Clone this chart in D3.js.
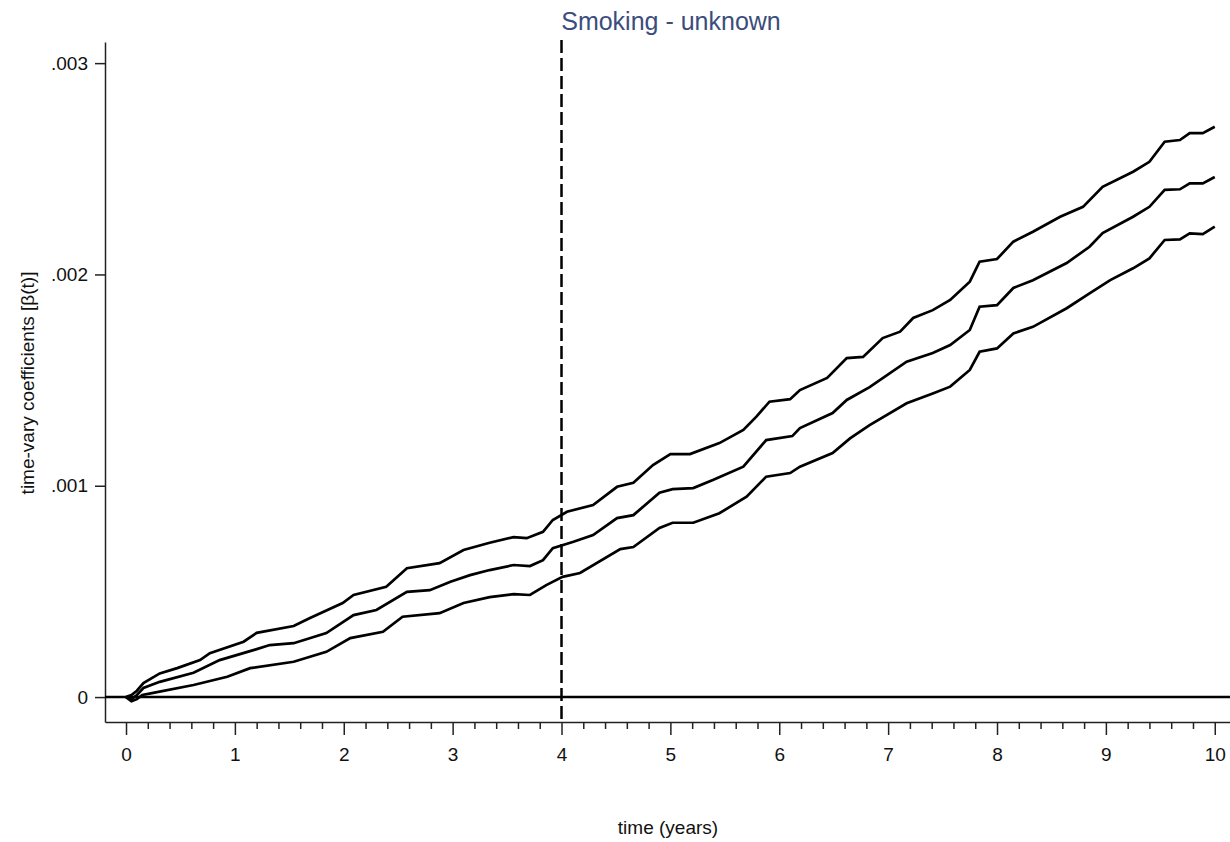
<!DOCTYPE html>
<html>
<head>
<meta charset="utf-8">
<script src="https://cdn.jsdelivr.net/npm/d3@7"></script>
<style>
  body { margin: 0; background: #fff; }
  svg { font-family: "Liberation Sans", Arial, sans-serif; }
  .axis path, .axis line { stroke: #222; stroke-width: 1.5px; }
  .axis text { fill: #111; font-size: 19px; }
</style>
</head>
<body>
<div id="main"></div>
<script>
// time-varying coefficient: [time (years), beta(t)]
const upperBand = [
  [0, 0], [0.05, 0.00001], [0.1, 0.00003], [0.16, 0.000066], [0.31, 0.000112],
  [0.47, 0.000137], [0.68, 0.000175], [0.77, 0.000208], [1.08, 0.000262], [1.2, 0.000304],
  [1.54, 0.000336], [1.69, 0.000374], [1.99, 0.000445], [2.09, 0.000483], [2.39, 0.000522],
  [2.58, 0.00061], [2.88, 0.000634], [3.1, 0.000696], [3.34, 0.00073], [3.56, 0.000757],
  [3.68, 0.000752], [3.83, 0.000782], [3.92, 0.000838], [4.05, 0.000877], [4.29, 0.000909],
  [4.51, 0.000995], [4.66, 0.001014], [4.84, 0.001098], [5.0, 0.00115], [5.18, 0.00115],
  [5.45, 0.001202], [5.67, 0.001264], [5.79, 0.001327], [5.91, 0.001398], [6.1, 0.00141],
  [6.19, 0.001453], [6.44, 0.00151], [6.62, 0.001604], [6.77, 0.00161], [6.95, 0.001699],
  [7.11, 0.001729], [7.23, 0.001794], [7.41, 0.001831], [7.57, 0.001879], [7.75, 0.001966],
  [7.84, 0.00206], [8.0, 0.002073], [8.15, 0.002155], [8.33, 0.002202], [8.58, 0.002273],
  [8.79, 0.00232], [8.97, 0.002415], [9.25, 0.002486], [9.4, 0.002533], [9.54, 0.002628],
  [9.68, 0.002636], [9.77, 0.002669], [9.89, 0.002669], [10.0, 0.002699]
];

const estimate = [
  [0, 0], [0.05, -0.00001], [0.1, 0.00001], [0.16, 0.000043], [0.31, 0.000072],
  [0.62, 0.000115], [0.86, 0.000175], [1.17, 0.000222], [1.32, 0.000246], [1.54, 0.000255],
  [1.84, 0.000303], [2.09, 0.000388], [2.3, 0.000412], [2.58, 0.000498], [2.79, 0.000506],
  [2.98, 0.000546], [3.16, 0.000577], [3.34, 0.000601], [3.56, 0.000625], [3.71, 0.00062],
  [3.83, 0.000648], [3.92, 0.000705], [4.11, 0.000735], [4.29, 0.000767], [4.51, 0.000847],
  [4.66, 0.000861], [4.9, 0.000967], [5.02, 0.000984], [5.21, 0.000989], [5.39, 0.001027],
  [5.67, 0.00109], [5.88, 0.001216], [6.12, 0.001235], [6.19, 0.001273], [6.49, 0.001344],
  [6.62, 0.001406], [6.83, 0.001467], [7.17, 0.001587], [7.41, 0.001628], [7.57, 0.001666],
  [7.75, 0.001737], [7.84, 0.001847], [8.0, 0.001855], [8.15, 0.001936], [8.33, 0.001973],
  [8.64, 0.002054], [8.85, 0.002131], [8.97, 0.002196], [9.25, 0.002273], [9.4, 0.00232],
  [9.54, 0.0024], [9.68, 0.002403], [9.77, 0.002431], [9.89, 0.002431], [10.0, 0.002461]
];

const lowerBand = [
  [0, 0], [0.05, -0.00002], [0.1, -0.00001], [0.15, 0.00001], [0.25, 0.00002],
  [0.62, 0.000057], [0.93, 0.000096], [1.14, 0.000137], [1.54, 0.000167], [1.84, 0.000214],
  [2.06, 0.000279], [2.36, 0.000309], [2.54, 0.00038], [2.88, 0.000397], [3.1, 0.000445],
  [3.34, 0.000473], [3.56, 0.000487], [3.71, 0.000483], [3.86, 0.00053], [4.01, 0.000569],
  [4.17, 0.000587], [4.54, 0.0007], [4.66, 0.00071], [4.9, 0.0008], [5.02, 0.000825],
  [5.21, 0.000825], [5.45, 0.00087], [5.7, 0.000948], [5.88, 0.001043], [6.1, 0.00106],
  [6.19, 0.00109], [6.49, 0.001155], [6.65, 0.001224], [6.83, 0.001287], [7.17, 0.00139],
  [7.41, 0.001437], [7.57, 0.001469], [7.75, 0.001548], [7.84, 0.001634], [8.0, 0.00165],
  [8.15, 0.001721], [8.33, 0.001752], [8.64, 0.00184], [8.85, 0.00191], [9.04, 0.001973],
  [9.25, 0.002029], [9.4, 0.002076], [9.54, 0.002163], [9.68, 0.002166], [9.77, 0.002194],
  [9.89, 0.002191], [10.0, 0.002226]
];

const xMajorTicks = [0, 1, 2, 3, 4, 5, 6, 7, 8, 9, 10];
const xMinorTicks = d3.range(0, 51).map(i => i / 5).filter(v => v % 1 !== 0);
const yTicks = [0, 0.001, 0.002, 0.003];
const yTickLabels = ['0', '.001', '.002', '.003'];
const cutTime = 4;
const title = 'Smoking - unknown';

const width = 1230, height = 842;
const plotLeft = 105, plotRight = 1230, plotTop = 42, plotBottom = 722;

const svg = d3.select('#main').append('svg')
  .attr('width', width)
  .attr('height', height);

const x = d3.scaleLinear().domain([-0.193, 10.14]).range([plotLeft, plotRight]);
const y = d3.scaleLinear().domain([-0.000118, 0.0031]).range([plotBottom, plotTop]);

// x axis: major ticks with labels, then unlabelled minor ticks
svg.append('g')
  .attr('class', 'axis')
  .attr('transform', `translate(0,${plotBottom})`)
  .call(d3.axisBottom(x).tickValues(xMajorTicks).tickSize(13).tickSizeOuter(0).tickPadding(13));

svg.append('g')
  .attr('class', 'axis')
  .attr('transform', `translate(0,${plotBottom})`)
  .call(d3.axisBottom(x).tickValues(xMinorTicks).tickSize(7).tickSizeOuter(0).tickFormat(''))
  .call(g => g.select('.domain').remove());

// y axis
svg.append('g')
  .attr('class', 'axis')
  .attr('transform', `translate(${plotLeft},0)`)
  .call(d3.axisLeft(y).tickValues(yTicks).tickSize(10).tickSizeOuter(0).tickPadding(7)
    .tickFormat((d, i) => yTickLabels[i]));

// reference line at zero
svg.append('line')
  .attr('x1', plotLeft).attr('x2', plotRight)
  .attr('y1', y(0)).attr('y2', y(0))
  .attr('stroke', '#000')
  .attr('stroke-width', 2.4);

// dashed vertical marker
svg.append('line')
  .attr('x1', x(cutTime)).attr('x2', x(cutTime))
  .attr('y1', 40).attr('y2', plotBottom)
  .attr('stroke', '#000')
  .attr('stroke-width', 2.5)
  .attr('stroke-dasharray', '13,5');

const line = d3.line()
  .x(d => x(d[0]))
  .y(d => y(d[1]));

svg.selectAll('path.series')
  .data([upperBand, estimate, lowerBand])
  .join('path')
    .attr('class', 'series')
    .attr('d', line)
    .attr('fill', 'none')
    .attr('stroke', '#000')
    .attr('stroke-width', 2.7)
    .attr('stroke-linejoin', 'miter');

svg.append('text')
  .attr('x', 671)
  .attr('y', 30)
  .attr('text-anchor', 'middle')
  .attr('fill', '#3b4d7c')
  .attr('font-size', 25)
  .text(title);

svg.append('text')
  .attr('x', 668)
  .attr('y', 834)
  .attr('text-anchor', 'middle')
  .attr('fill', '#111')
  .attr('font-size', 19)
  .text('time (years)');

svg.append('text')
  .attr('transform', 'translate(34,383) rotate(-90)')
  .attr('text-anchor', 'middle')
  .attr('fill', '#111')
  .attr('font-size', 19)
  .text('time-vary coefficients [β(t)]');
</script>
</body>
</html>
